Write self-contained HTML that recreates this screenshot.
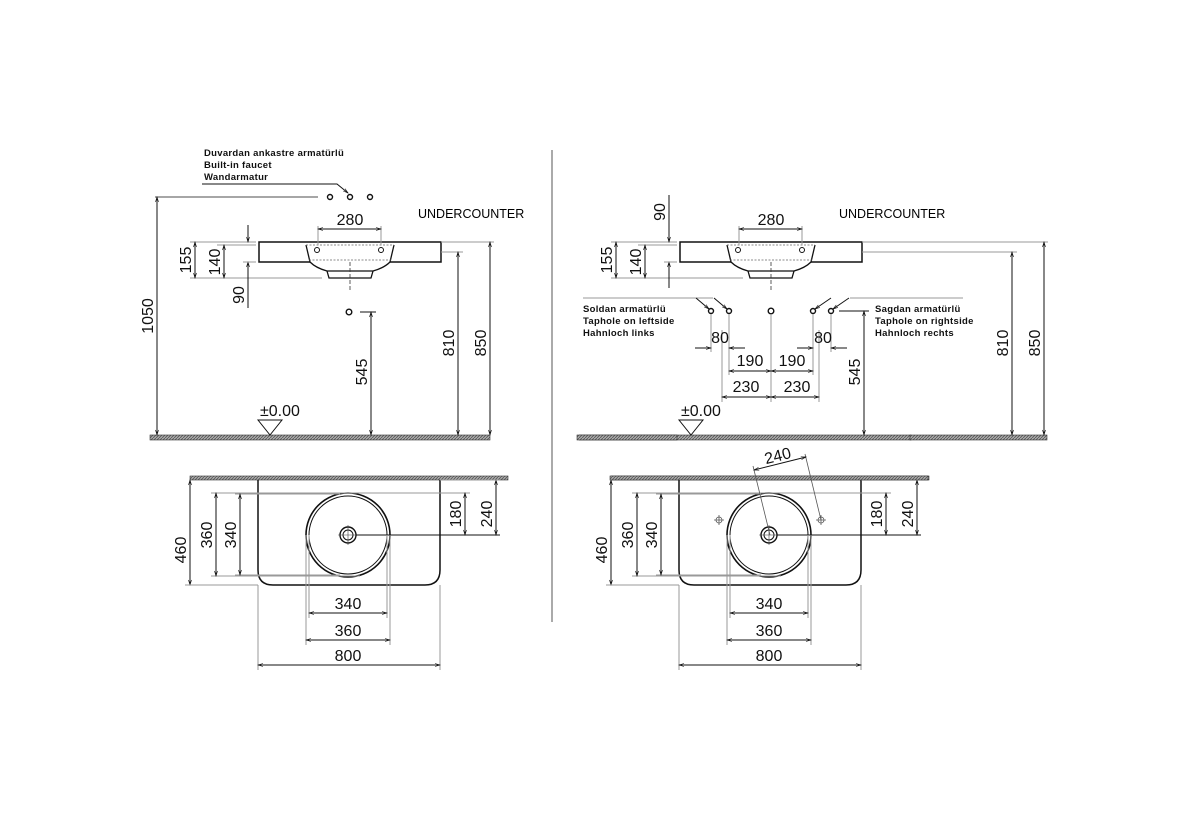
<!DOCTYPE html>
<html><head><meta charset="utf-8"><style>
html,body{margin:0;padding:0;background:#fff;}
svg{display:block;font-family:"Liberation Sans",sans-serif;}
.t{font-size:16px;fill:#111;}
.s{font-size:9.5px;fill:#111;font-weight:bold;letter-spacing:0.3px}
</style></head><body>
<svg width="1190" height="840" viewBox="0 0 1190 840" xmlns="http://www.w3.org/2000/svg">
<defs>
<marker id="a" viewBox="0 0 10 10" refX="10" refY="5" markerWidth="7" markerHeight="5" orient="auto-start-reverse"><path d="M0,2 L10,5 L0,8" fill="none" stroke="#111" stroke-width="1.2"/></marker>
<pattern id="h" width="3" height="3" patternUnits="userSpaceOnUse"><rect width="3" height="3" fill="#aaa"/><path d="M0,3 L3,0" stroke="#555" stroke-width="0.8"/></pattern>
<g id="elev">
  <rect x="259" y="242" width="182" height="20" fill="none" stroke="#111" stroke-width="1.5"/>
  <path d="M306,245 L310,262 Q316,268 327,271 L373,271 Q384,268 390,262 L394,245" fill="#fff" stroke="#111" stroke-width="1.3"/>
  <path d="M327,271 L329,278 L371,278 L373,271" fill="none" stroke="#111" stroke-width="1.3"/>
  <path d="M306,245 L394,245 M309,260 L391,260" stroke="#666" stroke-width="0.8" stroke-dasharray="2,1.5"/>
  <circle cx="317" cy="250" r="2.5" fill="none" stroke="#111"/><circle cx="381" cy="250" r="2.5" fill="none" stroke="#111"/>
  <line x1="350" y1="262" x2="350" y2="290" stroke="#333" stroke-width="0.8" stroke-dasharray="4,2"/>
  <path d="M318,245 L318,226 M381,245 L381,226" stroke="#999"/>
  <line x1="318" y1="229" x2="381" y2="229" stroke="#111" marker-start="url(#a)" marker-end="url(#a)"/>
  <text class="t" x="350" y="225" text-anchor="middle">280</text>
  <text x="418" y="218" style="font-size:12.5px">UNDERCOUNTER</text>
  <path d="M190,242 L256,242 M217,245 L256,245 M190,278 L322,278" stroke="#999"/>
  <line x1="195" y1="242" x2="195" y2="278" stroke="#111" marker-start="url(#a)" marker-end="url(#a)"/>
  <line x1="224" y1="245" x2="224" y2="278" stroke="#111" marker-start="url(#a)" marker-end="url(#a)"/>
  <text class="t" transform="translate(191,260) rotate(-90)" text-anchor="middle">155</text>
  <text class="t" transform="translate(220,262) rotate(-90)" text-anchor="middle">140</text>
  <path d="M441,242 L494,242 M441,252 L463,252" stroke="#999"/>
  <rect x="150" y="435" width="340" height="5" fill="url(#h)" stroke="#333" stroke-width="0.6"/>
  <text class="t" x="260" y="416">±0.00</text>
  <path d="M258,420 L282,420 L270,435 Z" fill="none" stroke="#111"/>
</g>
<g id="plan">
  <rect x="190" y="476" width="318" height="4" fill="url(#h)" stroke="#333" stroke-width="0.6"/>
  <path d="M258,480 L258,570 Q258,585 273,585 L425,585 Q440,585 440,570 L440,480" fill="none" stroke="#111" stroke-width="1.5"/>
  <circle cx="348" cy="535" r="42" fill="none" stroke="#111" stroke-width="1.6"/>
  <circle cx="348" cy="535" r="39" fill="none" stroke="#111" stroke-width="1"/>
  <circle cx="348" cy="535" r="8" fill="none" stroke="#111" stroke-width="1.4"/>
  <circle cx="348" cy="535" r="5" fill="none" stroke="#111"/>
  <path d="M338,535 L358,535 M348,525 L348,545" stroke="#444" stroke-width="0.6"/>
  <line x1="356" y1="535" x2="500" y2="535" stroke="#111"/>
  <path d="M211,493 L470,493 M211,576 L360,576 M235,494 L340,494 M235,575 L340,575" stroke="#999"/>
  <path d="M306,535 L306,645 M390,535 L390,645 M309,535 L309,618 M387,535 L387,618 M258,585 L258,670 M440,585 L440,670" stroke="#999"/>
  <line x1="190" y1="480" x2="190" y2="585" stroke="#111" marker-start="url(#a)" marker-end="url(#a)"/>
  <line x1="216" y1="493" x2="216" y2="576" stroke="#111" marker-start="url(#a)" marker-end="url(#a)"/>
  <line x1="240" y1="494" x2="240" y2="575" stroke="#111" marker-start="url(#a)" marker-end="url(#a)"/>
  <line x1="465" y1="493" x2="465" y2="535" stroke="#111" marker-start="url(#a)" marker-end="url(#a)"/>
  <line x1="496" y1="480" x2="496" y2="535" stroke="#111" marker-start="url(#a)" marker-end="url(#a)"/>
  <path d="M185,585 L258,585 M440,480 L500,480" stroke="#999"/>
  <text class="t" transform="translate(186,550) rotate(-90)" text-anchor="middle">460</text>
  <text class="t" transform="translate(212,535) rotate(-90)" text-anchor="middle">360</text>
  <text class="t" transform="translate(236,535) rotate(-90)" text-anchor="middle">340</text>
  <text class="t" transform="translate(461,514) rotate(-90)" text-anchor="middle">180</text>
  <text class="t" transform="translate(492,514) rotate(-90)" text-anchor="middle">240</text>
  <line x1="309" y1="613" x2="387" y2="613" stroke="#111" marker-start="url(#a)" marker-end="url(#a)"/>
  <line x1="306" y1="640" x2="390" y2="640" stroke="#111" marker-start="url(#a)" marker-end="url(#a)"/>
  <line x1="258" y1="665" x2="440" y2="665" stroke="#111" marker-start="url(#a)" marker-end="url(#a)"/>
  <text class="t" x="348" y="609" text-anchor="middle">340</text>
  <text class="t" x="348" y="636" text-anchor="middle">360</text>
  <text class="t" x="348" y="661" text-anchor="middle">800</text>
</g>
</defs>

<use href="#elev"/>
<use href="#plan"/>
<text class="s" x="204" y="156">Duvardan ankastre armatürlü</text>
<text class="s" x="204" y="168">Built-in faucet</text>
<text class="s" x="204" y="180">Wandarmatur</text>
<path d="M202,184 L337,184 L348,193" fill="none" stroke="#111" marker-end="url(#a)"/>
<circle cx="330" cy="197" r="2.5" fill="none" stroke="#111" stroke-width="1.4"/>
<circle cx="350" cy="197" r="2.5" fill="none" stroke="#111" stroke-width="1.4"/>
<circle cx="370" cy="197" r="2.5" fill="none" stroke="#111" stroke-width="1.4"/>
<line x1="155" y1="197" x2="318" y2="197" stroke="#111" stroke-width="0.8"/>
<line x1="157" y1="197" x2="157" y2="435" stroke="#111" marker-start="url(#a)" marker-end="url(#a)"/>
<text class="t" transform="translate(153,316) rotate(-90)" text-anchor="middle">1050</text>
<line x1="248" y1="225" x2="248" y2="242" stroke="#111" marker-end="url(#a)"/>
<line x1="248" y1="308" x2="248" y2="262" stroke="#111" marker-end="url(#a)"/>
<path d="M243,262 L256,262" stroke="#999"/>
<text class="t" transform="translate(244,295) rotate(-90)" text-anchor="middle">90</text>
<circle cx="349" cy="312" r="2.8" fill="none" stroke="#111" stroke-width="1.4"/>
<path d="M360,312 L376,312" stroke="#111"/>
<line x1="371" y1="312" x2="371" y2="435" stroke="#111" marker-start="url(#a)" marker-end="url(#a)"/>
<text class="t" transform="translate(367,372) rotate(-90)" text-anchor="middle">545</text>
<line x1="458" y1="252" x2="458" y2="435" stroke="#111" marker-start="url(#a)" marker-end="url(#a)"/>
<line x1="490" y1="242" x2="490" y2="435" stroke="#111" marker-start="url(#a)" marker-end="url(#a)"/>
<text class="t" transform="translate(454,343) rotate(-90)" text-anchor="middle">810</text>
<text class="t" transform="translate(486,343) rotate(-90)" text-anchor="middle">850</text>

<line x1="552" y1="150" x2="552" y2="622" stroke="#555" stroke-width="1"/>

<g transform="translate(421,0)"><use href="#elev"/></g>
<g transform="translate(421,0)"><use href="#plan"/></g>
<rect x="565" y="434" width="14" height="7" fill="#fff"/>
<rect x="577" y="435" width="100" height="5" fill="url(#h)" stroke="#333" stroke-width="0.6"/>
<rect x="910" y="435" width="137" height="5" fill="url(#h)" stroke="#333" stroke-width="0.6"/>
<rect x="605" y="476" width="10" height="4" fill="#fff"/>
<rect x="610" y="476" width="318" height="4" fill="url(#h)" stroke="#333" stroke-width="0.6"/>
<line x1="669" y1="195" x2="669" y2="242" stroke="#111" marker-end="url(#a)"/>
<line x1="669" y1="288" x2="669" y2="262" stroke="#111" marker-end="url(#a)"/>
<path d="M664,262 L677,262" stroke="#999"/>
<text class="t" transform="translate(665,212) rotate(-90)" text-anchor="middle">90</text>
<path d="M583,298 L713,298 M850,298 L963,298" stroke="#999"/>
<line x1="696" y1="298" x2="709" y2="309" stroke="#111" marker-end="url(#a)"/>
<line x1="714" y1="298" x2="727" y2="309" stroke="#111" marker-end="url(#a)"/>
<line x1="831" y1="298" x2="815" y2="309" stroke="#111" marker-end="url(#a)"/>
<line x1="849" y1="298" x2="833" y2="309" stroke="#111" marker-end="url(#a)"/>
<g fill="none" stroke="#111" stroke-width="1.4">
<circle cx="711" cy="311" r="2.5"/><circle cx="729" cy="311" r="2.5"/><circle cx="771" cy="311" r="2.8"/><circle cx="813" cy="311" r="2.5"/><circle cx="831" cy="311" r="2.5"/>
</g>
<text class="s" x="583" y="312">Soldan armatürlü</text>
<text class="s" x="583" y="324">Taphole on leftside</text>
<text class="s" x="583" y="336">Hahnloch links</text>
<text class="s" x="875" y="312">Sagdan armatürlü</text>
<text class="s" x="875" y="324">Taphole on rightside</text>
<text class="s" x="875" y="336">Hahnloch rechts</text>
<path d="M711,314 L711,352 M729,314 L729,375 M722,330 L722,402 M771,314 L771,402 M813,314 L813,375 M819,330 L819,402 M831,314 L831,352" stroke="#999"/>
<line x1="695" y1="348" x2="711" y2="348" stroke="#111" marker-end="url(#a)"/>
<line x1="745" y1="348" x2="729" y2="348" stroke="#111" marker-end="url(#a)"/>
<line x1="797" y1="348" x2="813" y2="348" stroke="#111" marker-end="url(#a)"/>
<line x1="847" y1="348" x2="831" y2="348" stroke="#111" marker-end="url(#a)"/>
<text class="t" x="720" y="343" text-anchor="middle">80</text>
<text class="t" x="823" y="343" text-anchor="middle">80</text>
<line x1="729" y1="371" x2="771" y2="371" stroke="#111" marker-start="url(#a)" marker-end="url(#a)"/>
<line x1="771" y1="371" x2="813" y2="371" stroke="#111" marker-start="url(#a)" marker-end="url(#a)"/>
<line x1="722" y1="397" x2="771" y2="397" stroke="#111" marker-start="url(#a)" marker-end="url(#a)"/>
<line x1="771" y1="397" x2="819" y2="397" stroke="#111" marker-start="url(#a)" marker-end="url(#a)"/>
<text class="t" x="750" y="366" text-anchor="middle">190</text>
<text class="t" x="792" y="366" text-anchor="middle">190</text>
<text class="t" x="746" y="392" text-anchor="middle">230</text>
<text class="t" x="797" y="392" text-anchor="middle">230</text>
<path d="M839,311 L869,311" stroke="#111"/>
<line x1="864" y1="311" x2="864" y2="435" stroke="#111" marker-start="url(#a)" marker-end="url(#a)"/>
<text class="t" transform="translate(860,372) rotate(-90)" text-anchor="middle">545</text>
<path d="M863,242 L1048,242 M863,252 L1017,252" stroke="#999"/>
<line x1="1012" y1="252" x2="1012" y2="435" stroke="#111" marker-start="url(#a)" marker-end="url(#a)"/>
<line x1="1044" y1="242" x2="1044" y2="435" stroke="#111" marker-start="url(#a)" marker-end="url(#a)"/>
<text class="t" transform="translate(1008,343) rotate(-90)" text-anchor="middle">810</text>
<text class="t" transform="translate(1040,343) rotate(-90)" text-anchor="middle">850</text>
<path d="M770,535 L753,466 M821,520 L805,454" stroke="#555" stroke-width="0.8"/>
<line x1="754" y1="470" x2="806" y2="457" stroke="#111" marker-start="url(#a)" marker-end="url(#a)"/>
<text class="t" transform="translate(779,461) rotate(-14)" text-anchor="middle">240</text>
<g stroke="#555" stroke-width="0.8" fill="none">
<circle cx="719" cy="520" r="3"/><path d="M714,520 L724,520 M719,515 L719,525"/>
<circle cx="821" cy="520" r="3"/><path d="M816,520 L826,520 M821,515 L821,525"/>
</g>
</svg>
</body></html>
